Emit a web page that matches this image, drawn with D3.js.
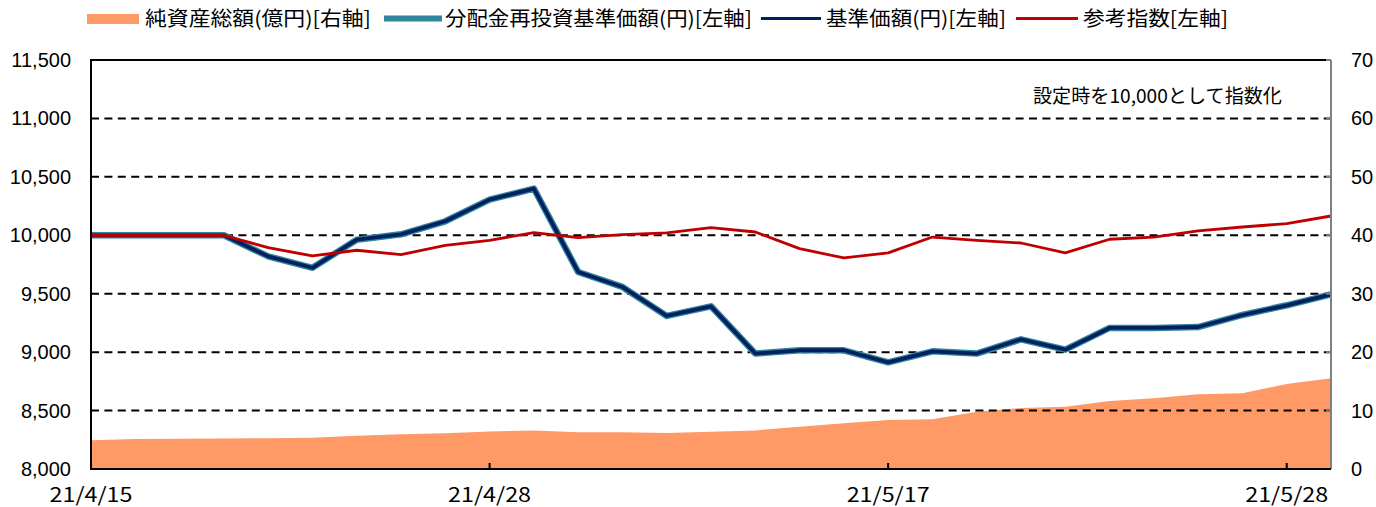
<!DOCTYPE html>
<html>
<head>
<meta charset="utf-8">
<script src="https://cdn.jsdelivr.net/npm/d3@7"></script>
<style>
  body { margin: 0; background: #fff; }
  svg { display: block; }
  .ylab { font-family: "Liberation Sans", Arial, sans-serif; font-size: 20px; fill: #000; }
  .jp { font-family: "Noto Sans CJK JP", sans-serif; font-size: 20px; fill: #000; }
</style>
</head>
<body>
<svg id="chart" width="1376" height="507"></svg>
<script>
// business days, 2021/4/15 - 2021/5/31
var dates = ["21/4/15","21/4/16","21/4/19","21/4/20","21/4/21","21/4/22","21/4/23","21/4/26","21/4/27","21/4/28",
  "21/4/30","21/5/6","21/5/7","21/5/10","21/5/11","21/5/12","21/5/13","21/5/14","21/5/17",
  "21/5/18","21/5/19","21/5/20","21/5/21","21/5/24","21/5/25","21/5/26","21/5/27","21/5/28","21/5/31"];
var dateLabels = ["21/4/15","21/4/28","21/5/17","21/5/28"];

// 基準価額(円) (分配金再投資も同値)
var nav = [10000,10000,10000,10000,9820,9722,9962,10008,10120,10305,
  10400,9686,9558,9310,9392,8988,9016,9016,8913,
  9007,8988,9110,9021,9207,9207,9215,9318,9401,9495];
var navReinvest = nav.slice();

// 参考指数
var refIndex = [10000,10000,10000,10000,9894,9823,9872,9835,9914,9957,
  10023,9980,10006,10020,10066,10028,9886,9806,9849,
  9985,9957,9934,9849,9966,9985,10037,10071,10100,10165];

// 純資産総額(億円)
var netAssets = [4.9,5.13,5.19,5.2,5.27,5.36,5.7,5.93,6.1,6.4,
  6.6,6.28,6.28,6.16,6.39,6.6,7.24,7.81,8.39,
  8.5,9.8,10.44,10.66,11.64,12.1,12.78,12.96,14.55,15.52];

var leftTicks = [8000,8500,9000,9500,10000,10500,11000,11500];
var rightTicks = [0,10,20,30,40,50,60,70];

var svg = d3.select("#chart");
var pLeft = 91, pRight = 1331, pTop = 60, pBottom = 469;

var x = d3.scalePoint().domain(dates).range([pLeft, pRight]);
var y = d3.scaleLinear().domain([8000, 11500]).range([pBottom, pTop]);
var yR = d3.scaleLinear().domain([0, 70]).range([pBottom, pTop]);

// net assets area
svg.append("path")
  .datum(netAssets)
  .attr("fill", "#FF9966")
  .attr("d", d3.area()
    .x(function(d, i) { return x(dates[i]); })
    .y0(yR(0))
    .y1(function(d) { return yR(d); }));

// grid lines
svg.append("g").selectAll("line")
  .data(leftTicks.filter(function(t) { return t > 8000 && t < 11500; }))
  .enter().append("line")
  .attr("x1", pLeft).attr("x2", pRight)
  .attr("y1", function(d) { return y(d); })
  .attr("y2", function(d) { return y(d); })
  .attr("stroke", "#000")
  .attr("stroke-width", 2)
  .attr("stroke-dasharray", "8,5.4");

// top border
svg.append("line")
  .attr("x1", pLeft).attr("x2", pRight)
  .attr("y1", pTop).attr("y2", pTop)
  .attr("stroke", "#000").attr("stroke-width", 2);

// lines
var line = function(arr) {
  return d3.line()
    .x(function(d, i) { return x(dates[i]); })
    .y(function(d) { return y(d); })(arr);
};

svg.append("path").attr("d", line(navReinvest))
  .attr("fill", "none").attr("stroke", "#31859C").attr("stroke-width", 6.5)
  .attr("stroke-linejoin", "round");
svg.append("path").attr("d", line(nav))
  .attr("fill", "none").attr("stroke", "#002060").attr("stroke-width", 3.8)
  .attr("stroke-linejoin", "round");
svg.append("path").attr("d", line(refIndex))
  .attr("fill", "none").attr("stroke", "#C00000").attr("stroke-width", 2.8)
  .attr("stroke-linejoin", "round");

// right axis
var rAxis = svg.append("g").attr("transform", "translate(" + pRight + ",0)");
rAxis.append("line").attr("x1", 0).attr("x2", 0).attr("y1", pTop).attr("y2", pBottom)
  .attr("stroke", "#808080").attr("stroke-width", 2);
rAxis.selectAll("line.t").data(rightTicks).enter().append("line")
  .attr("class", "t")
  .attr("x1", -5).attr("x2", 0)
  .attr("y1", function(d) { return yR(d); })
  .attr("y2", function(d) { return yR(d); })
  .attr("stroke", "#808080").attr("stroke-width", 2);
rAxis.selectAll("text").data(rightTicks).enter().append("text")
  .attr("class", "ylab")
  .attr("x", 20)
  .attr("y", function(d) { return yR(d); })
  .attr("dy", "0.35em")
  .text(function(d) { return d; });

// left axis
svg.append("line").attr("x1", pLeft).attr("x2", pLeft).attr("y1", pTop - 1).attr("y2", pBottom + 1)
  .attr("stroke", "#000").attr("stroke-width", 2);
svg.append("g").selectAll("text").data(leftTicks).enter().append("text")
  .attr("class", "ylab")
  .attr("x", 71)
  .attr("y", function(d) { return y(d); })
  .attr("dy", "0.35em")
  .attr("text-anchor", "end")
  .text(d3.format(","));

// bottom axis
svg.append("line").attr("x1", pLeft - 1).attr("x2", pRight).attr("y1", pBottom).attr("y2", pBottom)
  .attr("stroke", "#000").attr("stroke-width", 2);
svg.append("g").selectAll("line").data(dateLabels.slice(1)).enter().append("line")
  .attr("x1", function(d) { return x(d); }).attr("x2", function(d) { return x(d); })
  .attr("y1", pBottom - 6).attr("y2", pBottom)
  .attr("stroke", "#000").attr("stroke-width", 2);
svg.append("g").selectAll("text").data(dateLabels).enter().append("text")
  .attr("class", "jp")
  .attr("x", function(d) { return x(d) - 41.5; })
  .attr("y", 502)
  .attr("textLength", 83)
  .attr("lengthAdjust", "spacingAndGlyphs")
  .text(function(d) { return d; });

// annotation
svg.append("text").attr("class", "jp")
  .attr("x", 1033).attr("y", 103)
  .style("font-size", "19px")
  .attr("textLength", 249)
  .attr("lengthAdjust", "spacingAndGlyphs")
  .text("設定時を10,000として指数化");

// legend
var legend = [
  { label: "純資産総額(億円)[右軸]", type: "rect", color: "#FF9966", x: 87, w: 52, tx: 145, tw: 226 },
  { label: "分配金再投資基準価額(円)[左軸]", type: "line", color: "#31859C", x: 384, w: 58, sw: 6, tx: 445, tw: 307 },
  { label: "基準価額(円)[左軸]", type: "line", color: "#002060", x: 761, w: 60, sw: 3, tx: 826, tw: 180 },
  { label: "参考指数[左軸]", type: "line", color: "#C00000", x: 1016, w: 62, sw: 3, tx: 1083, tw: 145 }
];
var lg = svg.append("g");
legend.forEach(function(d) {
  if (d.type === "rect") {
    lg.append("rect").attr("x", d.x).attr("y", 14).attr("width", d.w).attr("height", 10).attr("fill", d.color);
  } else {
    lg.append("line").attr("x1", d.x).attr("x2", d.x + d.w).attr("y1", 18.5).attr("y2", 18.5)
      .attr("stroke", d.color).attr("stroke-width", d.sw);
  }
  lg.append("text").attr("class", "jp").attr("x", d.tx).attr("y", 26)
    .attr("textLength", d.tw).attr("lengthAdjust", "spacingAndGlyphs")
    .text(d.label);
});
</script>
</body>
</html>
